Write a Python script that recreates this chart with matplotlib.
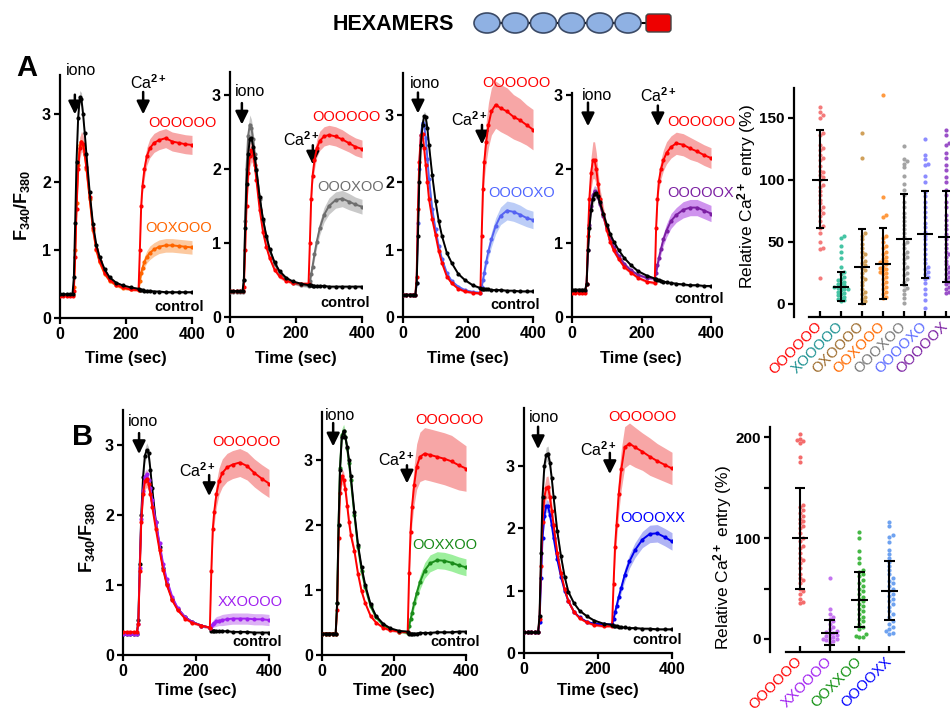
import numpy as np
import matplotlib
matplotlib.use('Agg')
import matplotlib.pyplot as plt
from matplotlib.patches import Ellipse, FancyBboxPatch

plt.rcParams['font.family'] = ['Liberation Sans', 'DejaVu Sans']
plt.rcParams['font.weight'] = 'bold'
plt.rcParams['mathtext.fontset'] = 'custom'
plt.rcParams['mathtext.rm'] = 'Liberation Sans'
plt.rcParams['mathtext.bf'] = 'Liberation Sans:bold'
plt.rcParams['mathtext.it'] = 'Liberation Sans:italic'
plt.rcParams['mathtext.default'] = 'rm'

# ---- time courses (F340/F380), common sampling times ----
t_sec = [0, 10, 20, 30, 38, 42, 46, 50, 55, 60, 65, 70, 75, 80, 90, 100, 110, 120, 135, 150, 170, 190, 215, 238,
         242, 246, 250, 256, 263, 272, 285, 300, 320, 340, 360, 380, 400]

# A1: OOXOOO
a1_ctrl = [0.35, 0.35, 0.35, 0.35, 0.36, 0.6, 1.4, 2.3, 2.95, 3.25, 3.22, 3.0, 2.72, 2.42, 1.85, 1.38, 1.08, 0.9, 0.72, 0.6, 0.52, 0.48, 0.45, 0.43,
           0.41, 0.41, 0.41, 0.40, 0.40, 0.40, 0.39, 0.39, 0.38, 0.38, 0.38, 0.38, 0.38]
a1_ctrl_sem = [0.02, 0.02, 0.02, 0.02, 0.02, 0.04, 0.08, 0.1, 0.1, 0.1, 0.1, 0.08, 0.07, 0.06, 0.05, 0.04, 0.03, 0.03, 0.02, 0.02, 0.02, 0.02, 0.02, 0.02,
               0.02, 0.02, 0.02, 0.02, 0.02, 0.02, 0.02, 0.02, 0.02, 0.02, 0.02, 0.02, 0.02]
a1_wt = [0.33, 0.33, 0.33, 0.33, 0.33, 0.4, 0.9, 1.6, 2.2, 2.5, 2.6, 2.56, 2.42, 2.22, 1.78, 1.32, 1.02, 0.84, 0.67, 0.56, 0.49, 0.45, 0.42, 0.41,
         1.0, 1.65, 1.95, 2.2, 2.38, 2.5, 2.58, 2.62, 2.65, 2.6, 2.58, 2.56, 2.55]
a1_wt_sem = [0.02, 0.02, 0.02, 0.02, 0.02, 0.03, 0.08, 0.12, 0.15, 0.15, 0.15, 0.14, 0.12, 0.1, 0.08, 0.06, 0.05, 0.04, 0.03, 0.03, 0.02, 0.02, 0.02, 0.02,
             0.06, 0.1, 0.12, 0.13, 0.13, 0.14, 0.14, 0.14, 0.14, 0.14, 0.14, 0.14, 0.14]
a1_mut = [0.34, 0.34, 0.34, 0.34, 0.34, 0.45, 1.0, 1.7, 2.25, 2.55, 2.6, 2.55, 2.4, 2.2, 1.75, 1.3, 1.0, 0.82, 0.65, 0.55, 0.48, 0.44, 0.42, 0.41,
          0.55, 0.66, 0.74, 0.83, 0.9, 0.96, 1.01, 1.05, 1.07, 1.07, 1.06, 1.05, 1.04]
a1_mut_sem = [0.02, 0.02, 0.02, 0.02, 0.02, 0.03, 0.07, 0.1, 0.12, 0.12, 0.12, 0.11, 0.1, 0.09, 0.07, 0.05, 0.04, 0.03, 0.03, 0.02, 0.02, 0.02, 0.02, 0.02,
              0.04, 0.06, 0.07, 0.08, 0.09, 0.1, 0.1, 0.1, 0.1, 0.1, 0.1, 0.1, 0.1]

# A2: OOOXOO
a2_ctrl = [0.35, 0.35, 0.35, 0.35, 0.35, 0.5, 1.2, 1.8, 2.2, 2.4, 2.42, 2.3, 2.15, 1.98, 1.62, 1.32, 1.1, 0.92, 0.74, 0.62, 0.53, 0.48, 0.45, 0.43,
           0.43, 0.43, 0.42, 0.42, 0.42, 0.42, 0.42, 0.41, 0.41, 0.41, 0.41, 0.41, 0.41]
a2_ctrl_sem = [0.02, 0.02, 0.02, 0.02, 0.02, 0.03, 0.05, 0.06, 0.06, 0.06, 0.06, 0.05, 0.05, 0.04, 0.04, 0.03, 0.03, 0.02, 0.02, 0.02, 0.02, 0.02, 0.02, 0.02,
               0.02, 0.02, 0.02, 0.02, 0.02, 0.02, 0.02, 0.02, 0.02, 0.02, 0.02, 0.02, 0.02]
a2_wt = [0.35, 0.35, 0.35, 0.35, 0.35, 0.4, 0.9, 1.5, 1.95, 2.18, 2.25, 2.2, 2.05, 1.85, 1.45, 1.15, 0.95, 0.8, 0.64, 0.55, 0.49, 0.46, 0.45, 0.45,
         1.0, 1.6, 1.9, 2.12, 2.28, 2.38, 2.44, 2.46, 2.44, 2.4, 2.35, 2.3, 2.27]
a2_wt_sem = [0.02, 0.02, 0.02, 0.02, 0.02, 0.03, 0.08, 0.12, 0.15, 0.15, 0.15, 0.14, 0.12, 0.1, 0.08, 0.06, 0.05, 0.04, 0.03, 0.03, 0.02, 0.02, 0.02, 0.02,
             0.06, 0.1, 0.11, 0.12, 0.12, 0.13, 0.13, 0.13, 0.13, 0.13, 0.12, 0.12, 0.12]
a2_mut = [0.34, 0.34, 0.34, 0.34, 0.34, 0.5, 1.3, 2.0, 2.45, 2.6, 2.55, 2.4, 2.2, 2.0, 1.6, 1.3, 1.07, 0.9, 0.72, 0.6, 0.51, 0.46, 0.43, 0.42,
          0.48, 0.58, 0.68, 0.85, 1.02, 1.2, 1.38, 1.5, 1.58, 1.6, 1.56, 1.52, 1.49]
a2_mut_sem = [0.02, 0.02, 0.02, 0.02, 0.02, 0.04, 0.08, 0.1, 0.12, 0.13, 0.12, 0.11, 0.1, 0.09, 0.07, 0.05, 0.04, 0.03, 0.03, 0.02, 0.02, 0.02, 0.02, 0.02,
              0.03, 0.05, 0.06, 0.07, 0.08, 0.09, 0.1, 0.11, 0.11, 0.11, 0.11, 0.1, 0.1]

# A3: OOOOXO
a3_ctrl = [0.33, 0.33, 0.33, 0.33, 0.33, 0.5, 1.2, 2.0, 2.55, 2.85, 2.98, 2.96, 2.8, 2.55, 2.1, 1.72, 1.42, 1.2, 0.95, 0.8, 0.64, 0.55, 0.47, 0.43,
           0.42, 0.42, 0.41, 0.41, 0.41, 0.40, 0.40, 0.40, 0.39, 0.39, 0.38, 0.38, 0.38]
a3_ctrl_sem = [0.02, 0.02, 0.02, 0.02, 0.02, 0.03, 0.05, 0.06, 0.07, 0.07, 0.07, 0.06, 0.05, 0.05, 0.04, 0.03, 0.03, 0.02, 0.02, 0.02, 0.02, 0.02, 0.02, 0.02,
               0.02, 0.02, 0.02, 0.02, 0.02, 0.02, 0.02, 0.02, 0.02, 0.02, 0.02, 0.02, 0.02]
a3_wt = [0.33, 0.33, 0.33, 0.33, 0.33, 0.6, 1.6, 2.3, 2.7, 2.72, 2.5, 2.25, 2.0, 1.75, 1.45, 1.22, 0.98, 0.8, 0.6, 0.5, 0.42, 0.38, 0.36, 0.35,
         1.2, 1.9, 2.3, 2.6, 2.85, 3.05, 3.15, 3.1, 3.05, 2.97, 2.92, 2.85, 2.78]
a3_wt_sem = [0.02, 0.02, 0.02, 0.02, 0.02, 0.04, 0.08, 0.1, 0.1, 0.1, 0.1, 0.09, 0.08, 0.07, 0.05, 0.04, 0.03, 0.03, 0.02, 0.02, 0.02, 0.02, 0.02, 0.02,
             0.1, 0.2, 0.25, 0.3, 0.33, 0.35, 0.35, 0.35, 0.35, 0.33, 0.32, 0.3, 0.3]
a3_mut = [0.33, 0.33, 0.33, 0.33, 0.33, 0.5, 1.4, 2.2, 2.7, 2.88, 2.85, 2.65, 2.35, 2.05, 1.6, 1.3, 1.05, 0.86, 0.65, 0.53, 0.45, 0.4, 0.37, 0.36,
          0.45, 0.55, 0.66, 0.82, 0.98, 1.15, 1.35, 1.5, 1.58, 1.56, 1.52, 1.47, 1.44]
a3_mut_sem = [0.02, 0.02, 0.02, 0.02, 0.02, 0.03, 0.06, 0.08, 0.08, 0.08, 0.08, 0.07, 0.06, 0.05, 0.04, 0.03, 0.03, 0.02, 0.02, 0.02, 0.02, 0.02, 0.02, 0.02,
              0.03, 0.05, 0.06, 0.08, 0.1, 0.11, 0.12, 0.13, 0.14, 0.14, 0.14, 0.13, 0.13]

# A4: OOOOOX
a4_ctrl = [0.37, 0.37, 0.37, 0.37, 0.37, 0.45, 0.9, 1.2, 1.45, 1.6, 1.67, 1.68, 1.63, 1.55, 1.4, 1.25, 1.12, 1.02, 0.9, 0.8, 0.7, 0.62, 0.56, 0.52,
           0.51, 0.5, 0.5, 0.49, 0.48, 0.47, 0.46, 0.45, 0.44, 0.43, 0.43, 0.42, 0.42]
a4_ctrl_sem = [0.02, 0.02, 0.02, 0.02, 0.02, 0.03, 0.05, 0.07, 0.08, 0.09, 0.09, 0.08, 0.07, 0.06, 0.05, 0.04, 0.03, 0.03, 0.02, 0.02, 0.02, 0.02, 0.02, 0.02,
               0.02, 0.02, 0.02, 0.02, 0.02, 0.02, 0.02, 0.02, 0.02, 0.02, 0.02, 0.02, 0.02]
a4_wt = [0.33, 0.33, 0.33, 0.33, 0.33, 0.45, 1.1, 1.6, 1.95, 2.12, 2.12, 2.0, 1.8, 1.6, 1.4, 1.18, 1.02, 0.9, 0.78, 0.68, 0.6, 0.53, 0.48, 0.46,
         1.2, 1.6, 1.84, 2.0, 2.12, 2.22, 2.3, 2.35, 2.33, 2.28, 2.24, 2.19, 2.15]
a4_wt_sem = [0.02, 0.02, 0.02, 0.02, 0.02, 0.05, 0.12, 0.18, 0.22, 0.25, 0.25, 0.22, 0.18, 0.15, 0.1, 0.07, 0.05, 0.04, 0.03, 0.03, 0.02, 0.02, 0.02, 0.02,
             0.08, 0.1, 0.12, 0.13, 0.14, 0.15, 0.15, 0.15, 0.15, 0.15, 0.14, 0.14, 0.14]
a4_mut = [0.35, 0.35, 0.35, 0.35, 0.35, 0.45, 0.9, 1.25, 1.5, 1.65, 1.7, 1.68, 1.62, 1.53, 1.36, 1.2, 1.06, 0.95, 0.82, 0.72, 0.63, 0.57, 0.53, 0.52,
          0.6, 0.7, 0.8, 0.92, 1.05, 1.17, 1.3, 1.38, 1.45, 1.48, 1.48, 1.44, 1.4]
a4_mut_sem = [0.02, 0.02, 0.02, 0.02, 0.02, 0.03, 0.05, 0.06, 0.07, 0.08, 0.08, 0.07, 0.06, 0.05, 0.04, 0.03, 0.03, 0.02, 0.02, 0.02, 0.02, 0.02, 0.02, 0.02,
              0.04, 0.05, 0.06, 0.07, 0.08, 0.09, 0.1, 0.1, 0.11, 0.11, 0.11, 0.11, 0.11]

# B1: XXOOOO
b1_ctrl = [0.3, 0.3, 0.3, 0.3, 0.3, 0.5, 1.3, 2.0, 2.55, 2.85, 2.93, 2.88, 2.65, 2.38, 1.9, 1.55, 1.25, 1.02, 0.8, 0.66, 0.54, 0.47, 0.42, 0.39,
           0.35, 0.35, 0.35, 0.34, 0.34, 0.34, 0.34, 0.33, 0.33, 0.33, 0.32, 0.32, 0.32]
b1_ctrl_sem = [0.02, 0.02, 0.02, 0.02, 0.02, 0.03, 0.06, 0.08, 0.1, 0.1, 0.1, 0.09, 0.08, 0.06, 0.05, 0.04, 0.03, 0.03, 0.02, 0.02, 0.02, 0.02, 0.02, 0.02,
               0.02, 0.02, 0.02, 0.02, 0.02, 0.02, 0.02, 0.02, 0.02, 0.02, 0.02, 0.02, 0.02]
b1_wt = [0.33, 0.33, 0.33, 0.33, 0.33, 0.45, 1.2, 1.9, 2.3, 2.48, 2.52, 2.45, 2.3, 2.12, 1.8, 1.5, 1.22, 1.0, 0.78, 0.64, 0.52, 0.46, 0.42, 0.39,
         1.2, 1.8, 2.05, 2.3, 2.48, 2.6, 2.68, 2.72, 2.75, 2.7, 2.6, 2.52, 2.45]
b1_wt_sem = [0.02, 0.02, 0.02, 0.02, 0.02, 0.04, 0.08, 0.1, 0.12, 0.12, 0.12, 0.11, 0.1, 0.08, 0.06, 0.05, 0.04, 0.03, 0.03, 0.02, 0.02, 0.02, 0.02, 0.02,
             0.1, 0.15, 0.17, 0.18, 0.19, 0.2, 0.2, 0.2, 0.2, 0.2, 0.2, 0.2, 0.2]
b1_mut = [0.3, 0.3, 0.3, 0.3, 0.3, 0.45, 1.25, 1.95, 2.35, 2.55, 2.58, 2.5, 2.38, 2.22, 1.9, 1.6, 1.3, 1.08, 0.83, 0.67, 0.54, 0.47, 0.42, 0.39,
          0.42, 0.44, 0.46, 0.48, 0.49, 0.5, 0.51, 0.52, 0.52, 0.52, 0.51, 0.51, 0.5]
b1_mut_sem = [0.02, 0.02, 0.02, 0.02, 0.02, 0.03, 0.06, 0.08, 0.08, 0.08, 0.08, 0.07, 0.06, 0.05, 0.04, 0.03, 0.03, 0.02, 0.02, 0.02, 0.02, 0.02, 0.02, 0.02,
              0.04, 0.05, 0.06, 0.07, 0.07, 0.08, 0.08, 0.08, 0.08, 0.08, 0.08, 0.08, 0.08]

# B2: OOXXOO
b2_ctrl = [0.33, 0.33, 0.33, 0.33, 0.33, 0.8, 2.0, 2.85, 3.35, 3.44, 3.35, 3.2, 3.0, 2.75, 2.2, 1.7, 1.35, 1.08, 0.78, 0.6, 0.48, 0.41, 0.37, 0.36,
           0.33, 0.33, 0.33, 0.33, 0.33, 0.34, 0.34, 0.34, 0.35, 0.35, 0.35, 0.36, 0.36]
b2_ctrl_sem = [0.02, 0.02, 0.02, 0.02, 0.02, 0.04, 0.06, 0.08, 0.08, 0.08, 0.08, 0.07, 0.06, 0.05, 0.04, 0.03, 0.03, 0.02, 0.02, 0.02, 0.02, 0.02, 0.02, 0.02,
               0.02, 0.02, 0.02, 0.02, 0.02, 0.02, 0.02, 0.02, 0.02, 0.02, 0.02, 0.02, 0.02]
b2_wt = [0.33, 0.33, 0.33, 0.33, 0.33, 0.7, 1.8, 2.5, 2.75, 2.7, 2.55, 2.3, 2.05, 1.85, 1.6, 1.25, 0.98, 0.8, 0.6, 0.5, 0.42, 0.38, 0.36, 0.35,
         1.26, 1.9, 2.28, 2.62, 2.9, 3.05, 3.1, 3.08, 3.05, 3.02, 2.98, 2.92, 2.87]
b2_wt_sem = [0.02, 0.02, 0.02, 0.02, 0.02, 0.04, 0.08, 0.1, 0.12, 0.12, 0.12, 0.11, 0.1, 0.08, 0.06, 0.05, 0.04, 0.03, 0.03, 0.02, 0.02, 0.02, 0.02, 0.02,
             0.12, 0.2, 0.25, 0.3, 0.35, 0.38, 0.4, 0.4, 0.4, 0.4, 0.4, 0.38, 0.35]
b2_mut = [0.33, 0.33, 0.33, 0.33, 0.33, 0.8, 2.0, 2.88, 3.38, 3.45, 3.35, 3.18, 2.95, 2.7, 2.15, 1.66, 1.3, 1.04, 0.75, 0.58, 0.46, 0.4, 0.36, 0.34,
          0.45, 0.55, 0.65, 0.8, 0.95, 1.12, 1.3, 1.41, 1.46, 1.45, 1.42, 1.38, 1.35]
b2_mut_sem = [0.02, 0.02, 0.02, 0.02, 0.02, 0.04, 0.07, 0.1, 0.1, 0.1, 0.1, 0.09, 0.08, 0.06, 0.05, 0.04, 0.03, 0.03, 0.02, 0.02, 0.02, 0.02, 0.02, 0.02,
              0.03, 0.05, 0.07, 0.08, 0.1, 0.11, 0.12, 0.13, 0.13, 0.13, 0.13, 0.13, 0.13]

# B3: OOOOXX
b3_ctrl = [0.33, 0.33, 0.33, 0.33, 0.33, 0.6, 1.6, 2.5, 3.0, 3.18, 3.2, 3.05, 2.8, 2.5, 1.95, 1.55, 1.22, 0.98, 0.8, 0.68, 0.59, 0.52, 0.47, 0.45,
           0.44, 0.43, 0.43, 0.42, 0.41, 0.41, 0.4, 0.4, 0.39, 0.39, 0.38, 0.38, 0.38]
b3_ctrl_sem = [0.02, 0.02, 0.02, 0.02, 0.02, 0.04, 0.08, 0.1, 0.12, 0.12, 0.12, 0.1, 0.08, 0.07, 0.05, 0.04, 0.03, 0.03, 0.02, 0.02, 0.02, 0.02, 0.02, 0.02,
               0.02, 0.02, 0.02, 0.02, 0.02, 0.02, 0.02, 0.02, 0.02, 0.02, 0.02, 0.02, 0.02]
b3_wt = [0.33, 0.33, 0.33, 0.33, 0.33, 0.55, 1.4, 2.1, 2.5, 2.65, 2.66, 2.5, 2.28, 2.05, 1.6, 1.28, 1.02, 0.83, 0.66, 0.56, 0.49, 0.45, 0.43, 0.43,
         1.1, 1.7, 2.05, 2.55, 2.95, 3.3, 3.36, 3.3, 3.23, 3.15, 3.08, 3.02, 2.96]
b3_wt_sem = [0.02, 0.02, 0.02, 0.02, 0.02, 0.05, 0.1, 0.15, 0.18, 0.18, 0.18, 0.16, 0.13, 0.1, 0.07, 0.05, 0.04, 0.03, 0.03, 0.02, 0.02, 0.02, 0.02, 0.02,
             0.1, 0.2, 0.25, 0.3, 0.32, 0.33, 0.33, 0.32, 0.3, 0.3, 0.28, 0.27, 0.26]
b3_mut = [0.33, 0.33, 0.33, 0.33, 0.33, 0.5, 1.2, 1.85, 2.2, 2.36, 2.35, 2.22, 2.05, 1.85, 1.5, 1.22, 1.0, 0.83, 0.66, 0.57, 0.5, 0.47, 0.46, 0.46,
          0.55, 0.65, 0.75, 0.9, 1.05, 1.25, 1.47, 1.65, 1.82, 1.91, 1.92, 1.86, 1.79]
b3_mut_sem = [0.02, 0.02, 0.02, 0.02, 0.02, 0.04, 0.07, 0.09, 0.1, 0.1, 0.1, 0.09, 0.08, 0.06, 0.05, 0.04, 0.03, 0.03, 0.02, 0.02, 0.02, 0.02, 0.02, 0.02,
              0.04, 0.05, 0.06, 0.07, 0.08, 0.1, 0.11, 0.12, 0.13, 0.14, 0.14, 0.14, 0.14]

# ---- relative Ca2+ entry (%) per cell ----
names_a = ['OOOOOO', 'XOOOOO', 'OXOOOO', 'OOXOOO', 'OOOXOO', 'OOOOXO', 'OOOOOX']
sa_wt = [159, 155, 152, 150, 138, 136, 128, 126, 124, 120, 118, 116, 111, 107, 106, 104, 102, 100, 96, 94, 91, 88,
         84, 81, 78, 76, 73, 71, 67, 63, 61, 57, 50, 45, 44, 21]
sa_xooooo = [55, 53, 47, 42, 37, 30, 26, 24, 22, 20, 19, 18, 17, 16, 15, 14, 14, 13, 12, 12, 11, 10, 9, 8, 7, 6, 5, 4, 3, 2]
sa_oxoooo = [138, 118, 57, 55, 52, 48, 45, 42, 40, 38, 35, 33, 31, 29, 27, 25, 22, 20, 18, 15, 12, 10, 8, 6, 4, 2, 1]
sa_ooxooo = [168, 86, 72, 70, 55, 53, 50, 47, 45, 42, 40, 38, 36, 35, 34, 33, 32, 30, 29, 28, 27, 26, 25, 24, 22, 20,
             18, 16, 14, 12, 10, 8, 6, 5]
sa_oooxoo = [127, 117, 115, 113, 110, 103, 97, 92, 88, 82, 78, 73, 70, 67, 64, 60, 57, 54, 50, 48, 45, 42, 40, 38, 36,
             33, 30, 28, 25, 23, 20, 18, 15, 13, 11, 8, 5, 1]
sa_ooooxo = [133, 120, 117, 113, 112, 103, 98, 90, 87, 82, 78, 74, 70, 65, 62, 58, 55, 52, 48, 44, 40, 36, 33, 30, 28,
             26, 24, 22, 20, 17, 12, 8, 3, -3]
sa_ooooox = [140, 136, 130, 128, 122, 118, 112, 108, 102, 98, 92, 88, 82, 78, 72, 68, 64, 60, 56, 52, 48, 45, 42, 40,
             38, 35, 32, 30, 28, 26, 24, 22, 20, 18, 16, 14, 12, 10, 9]
sa_mean = [100, 14, 30, 32, 52, 56, 54]
sa_lo = [61, 2, 0, 4, 15, 21, 18]
sa_hi = [140, 26, 60, 61, 89, 91, 91]

names_b = ['OOOOOO', 'XXOOOO', 'OOXXOO', 'OOOOXX']
sb_wt = [203, 198, 197, 196, 194, 180, 175, 133, 131, 128, 125, 122, 119, 117, 115, 112, 110, 105, 100, 97, 92, 90,
         85, 80, 78, 75, 70, 64, 60, 58, 55, 50, 48, 45, 40, 37, 36]
sb_xxoooo = [60, 30, 25, 22, 20, 18, 15, 12, 10, 8, 7, 6, 5, 4, 3, 2, 1, 0, 0, -1, -2, -3]
sb_ooxxoo = [106, 100, 87, 80, 75, 68, 66, 64, 62, 58, 55, 52, 50, 48, 45, 42, 40, 38, 35, 33, 30, 28, 25, 22, 20,
             18, 15, 12, 10, 5, 3, 2, 2]
sb_ooooxx = [116, 112, 103, 101, 96, 88, 84, 80, 76, 72, 68, 64, 60, 57, 55, 52, 50, 48, 45, 43, 40, 38, 35, 32, 28,
             25, 22, 18, 15, 12, 10, 8, 6, 5]
sb_mean = [100, 6, 39, 48]
sb_lo = [50, -6, 12, 19]
sb_hi = [150, 19, 66, 77]

RED, RED_BAND = '#ff0000', '#f7a6a6'
BLACK, GRAY_BAND = '#000000', '#c4c4c4'

W, H = 950, 711
fig = plt.figure(figsize=(9.5, 7.11), dpi=100)


def fig_box(l, t, r, b):
    return [l / W, 1 - b / H, (r - l) / W, (b - t) / H]


def style(ax, labelsize=11.5):
    ax.spines['top'].set_visible(False)
    ax.spines['right'].set_visible(False)
    for s in ('left', 'bottom'):
        ax.spines[s].set_linewidth(1.6)
    ax.tick_params(direction='out', length=4.5, width=1.6, labelsize=labelsize, pad=2)
    ax.patch.set_alpha(0)


def time_panel(box, ytop, traces, iono, ca, labels):
    ax = fig.add_axes(fig_box(*box))
    style(ax)
    ax.set_xlim(0, 400)
    ax.set_ylim(0, ytop)
    ax.set_xticks([0, 200, 400])
    ax.set_yticks([0, 1, 2, 3])
    for k, (y, e, lc, bc) in enumerate(traces):
        y, e = np.asarray(y), np.asarray(e)
        ax.fill_between(t_sec, y - e, y + e, color=bc, lw=0, zorder=1 + 0.1 * k)
    for k, (y, e, lc, bc) in enumerate(traces):
        ax.plot(t_sec, y, color=lc, lw=1.4, marker='o', ms=3, mew=0, zorder=3 + k)
    # stimulus arrows
    for txt, (tx, ty), (ax_x, y0, y1) in (('iono', iono[0], iono[1]), ('Ca$^{2+}$', ca[0], ca[1])):
        ax.text(tx, ty, txt, ha='center', va='center', fontsize=11.5, fontweight='normal', clip_on=False)
        ax.annotate('', xy=(ax_x, y1), xytext=(ax_x, y0), annotation_clip=False,
                    arrowprops=dict(arrowstyle='-|>,head_width=0.32,head_length=0.65', lw=1.8,
                                    color='k', shrinkA=0, shrinkB=0, mutation_scale=12))
    for txt, color, (lx, ly), weight in labels:
        ax.text(lx, ly, txt, color=color, ha='left', va='center', fontsize=10.5,
                fontweight=weight, clip_on=False, zorder=10)
    return ax


def swarm_x(ax, xc, vals, dpx):
    to_px = ax.transData.transform
    unit_px = to_px((xc + 1, 0))[0] - to_px((xc, 0))[0]
    xs = np.zeros(len(vals))
    placed = []
    for i in np.argsort(vals):
        ypx = to_px((xc, vals[i]))[1]
        k = 0
        while True:
            off = ((k + 1) // 2) * dpx * (1 if k % 2 == 1 else -1)
            if all((px - off) ** 2 + (py - ypx) ** 2 >= dpx ** 2 for px, py in placed):
                break
            k += 1
        placed.append((off, ypx))
        xs[i] = xc + off / unit_px
    return xs


def scatter_panel(box, ylim, xlim, xbounds, groups, pt_colors, lab_colors, names, means, los, his,
                  yticks, minor, mean_w, cap_w):
    ax = fig.add_axes(fig_box(*box))
    style(ax, labelsize=11)
    ax.set_ylim(*ylim)
    ax.set_xlim(*xlim)
    ax.spines['bottom'].set_bounds(*xbounds)
    ax.set_yticks(yticks)
    if minor:
        ax.set_yticks(minor, minor=True)
        ax.tick_params(which='minor', direction='out', length=4.5, width=1.6)
    ax.set_xticks(range(len(names)))
    ax.set_xticklabels(names, rotation=45, ha='right', va='center', rotation_mode='anchor',
                       fontsize=10.5, fontweight='normal')
    ax.tick_params(axis='x', direction='in', length=4, pad=5)
    for lab, c in zip(ax.get_xticklabels(), lab_colors):
        lab.set_color(c)
    for i, vals in enumerate(groups):
        xs = swarm_x(ax, i, vals, 3.4)
        ax.scatter(xs, vals, s=9, color=pt_colors[i], lw=0, zorder=2)
        ax.hlines(means[i], i - mean_w, i + mean_w, color='k', lw=1.5, zorder=4)
        ax.vlines(i, los[i], his[i], color='k', lw=1.5, zorder=4)
        ax.hlines([los[i], his[i]], i - cap_w, i + cap_w, color='k', lw=1.5, zorder=4)
    return ax


# ---- header graphic ----
hdr = fig.add_axes([0, 0, 1, 1], zorder=-1)
hdr.set_xlim(0, W)
hdr.set_ylim(H, 0)
hdr.axis('off')
hdr.text(393, 24, 'HEXAMERS', ha='center', va='center', fontsize=15.5, fontweight='bold')
hdr.plot([487, 660], [23, 23], color='k', lw=1.5, zorder=1)
for i in range(6):
    hdr.add_patch(Ellipse((487 + 28.2 * i, 23), 26, 20, fc='#8fb1e3', ec='#3b4a66', lw=1.2, zorder=2))
hdr.add_patch(FancyBboxPatch((646, 14), 25, 18, boxstyle='round,pad=0,rounding_size=3',
                             fc='#ee0000', ec='#444444', lw=1.0, zorder=2))
fig.text(27 / W, 1 - 68 / H, 'A', fontsize=21, fontweight='bold', ha='center', va='center')
fig.text(83 / W, 1 - 437 / H, 'B', fontsize=21, fontweight='bold', ha='center', va='center')

# ---- row A ----
time_panel((60, 75, 192, 318), 3.58,
           [(a1_mut, a1_mut_sem, '#ff6600', '#fcc9a0'), (a1_wt, a1_wt_sem, RED, RED_BAND),
            (a1_ctrl, a1_ctrl_sem, BLACK, GRAY_BAND)],
           ((64, 3.64), (45, 3.29, 3.0)), ((267, 3.47), (252, 3.33, 3.0)),
           [('OOOOOO', RED, (267, 2.88), 'normal'), ('OOXOOO', '#ff6600', (258, 1.33), 'normal'),
            ('control', 'k', (285, 0.16), 'bold')])
time_panel((230, 72, 362, 317), 3.31,
           [(a2_mut, a2_mut_sem, '#6e6e6e', '#c9c9c9'), (a2_wt, a2_wt_sem, RED, RED_BAND),
            (a2_ctrl, a2_ctrl_sem, BLACK, GRAY_BAND)],
           ((61, 3.04), (36, 2.89, 2.6)), ((218, 2.4), (251, 2.32, 2.06)),
           [('OOOOOO', RED, (248, 2.7), 'normal'), ('OOOXOO', '#6e6e6e', (263, 1.76), 'normal'),
            ('control', 'k', (273, 0.19), 'bold')])
time_panel((403, 73, 533, 317), 3.62,
           [(a3_mut, a3_mut_sem, '#5563f2', '#bccdf7'), (a3_wt, a3_wt_sem, RED, RED_BAND),
            (a3_ctrl, a3_ctrl_sem, BLACK, GRAY_BAND)],
           ((68, 3.47), (46, 3.33, 3.02)), ((206, 2.93), (243, 2.85, 2.56)),
           [('OOOOOO', RED, (243, 3.47), 'normal'), ('OOOOXO', '#4f66ff', (262, 1.84), 'normal'),
            ('control', 'k', (268, 0.18), 'bold')])
time_panel((572, 93, 711, 317), 3.03,
           [(a4_mut, a4_mut_sem, '#7b1fa2', '#cf94ee'), (a4_wt, a4_wt_sem, RED, RED_BAND),
            (a4_ctrl, a4_ctrl_sem, BLACK, GRAY_BAND)],
           ((72, 3.0), (46, 2.9, 2.58)), ((248, 3.0), (247, 2.86, 2.58)),
           [('OOOOOO', RED, (273, 2.64), 'normal'), ('OOOOOX', '#7b1fa2', (273, 1.68), 'normal'),
            ('control', 'k', (296, 0.25), 'bold')])

# ---- row B ----
time_panel((123, 410, 269, 655), 3.5,
           [(b1_ctrl, b1_ctrl_sem, BLACK, GRAY_BAND), (b1_mut, b1_mut_sem, '#a020f0', '#dcb0f5'),
            (b1_wt, b1_wt_sem, RED, RED_BAND)],
           ((55, 3.33), (44, 3.17, 2.87)), ((203, 2.64), (236, 2.57, 2.27)),
           [('OOOOOO', RED, (244, 3.04), 'normal'), ('XXOOOO', '#a020f0', (260, 0.76), 'normal'),
            ('control', 'k', (301, 0.19), 'bold')])
time_panel((322, 412, 466, 655), 3.74,
           [(b2_mut, b2_mut_sem, '#1a8c1a', '#9def9d'), (b2_wt, b2_wt_sem, RED, RED_BAND),
            (b2_ctrl, b2_ctrl_sem, BLACK, GRAY_BAND)],
           ((50, 3.69), (31, 3.57, 3.21)), ((208, 3.0), (236, 2.92, 2.64)),
           [('OOOOOO', RED, (258, 3.62), 'normal'), ('OOXXOO', '#178a17', (250, 1.69), 'normal'),
            ('control', 'k', (300, 0.2), 'bold')])
time_panel((524, 408, 672, 653), 3.93,
           [(b3_mut, b3_mut_sem, '#0000ee', '#b0b4f5'), (b3_wt, b3_wt_sem, RED, RED_BAND),
            (b3_ctrl, b3_ctrl_sem, BLACK, GRAY_BAND)],
           ((54, 3.77), (38, 3.63, 3.27)), ((200, 3.26), (232, 3.21, 2.87)),
           [('OOOOOO', RED, (227, 3.79), 'normal'), ('OOOOXX', '#0000ff', (259, 2.17), 'normal'),
            ('control', 'k', (292, 0.21), 'bold')])

for cx, cy in ((126, 358), (296, 358), (468, 358), (641, 358), (196, 690), (394, 690), (598, 690)):
    fig.text(cx / W, 1 - cy / H, 'Time (sec)', ha='center', va='center', fontsize=12, fontweight='bold')
for cx, cy in ((22, 205), (87, 537)):
    fig.text(cx / W, 1 - cy / H, r'$\mathbf{F_{340}/F_{380}}$', ha='center', va='center', fontsize=13, rotation=90)

# ---- scatter panels ----
scatter_panel((794, 88, 960, 317), (-10.5, 174), (-1.24, 6.67), (-0.52, 7),
              [sa_wt, sa_xooooo, sa_oxoooo, sa_ooxooo, sa_oooxoo, sa_ooooxo, sa_ooooox],
              ['#f47b7b', '#45c4a4', '#d0a05a', '#ff9a40', '#a3a3a3', '#8c8cff', '#9a50c8'],
              ['#ff0000', '#1a9090', '#9c6a2a', '#ff6a00', '#777777', '#5a6aff', '#7a1fa2'],
              names_a, sa_mean, sa_lo, sa_hi, [0, 50, 100, 150], None, 0.36, 0.17)
scatter_panel((770, 427, 910, 652), (-12.9, 210), (-1.01, 3.7), (-0.47, 3.5),
              [sb_wt, sb_xxoooo, sb_ooxxoo, sb_ooooxx],
              ['#f46c6c', '#c474f0', '#45b845', '#6ea2f0'],
              ['#ff0000', '#a020f0', '#109010', '#0000ff'],
              names_b, sb_mean, sb_lo, sb_hi, [0, 100, 200], [50, 150], 0.28, 0.18)
fig.text(747 / W, 1 - 197 / H, 'Relative Ca$^{2+}$ entry (%)', ha='center', va='center',
         fontsize=12.5, fontweight='normal', rotation=90)
fig.text(723 / W, 1 - 558 / H, 'Relative Ca$^{2+}$ entry (%)', ha='center', va='center',
         fontsize=12.5, fontweight='normal', rotation=90)

fig.savefig('out.png', dpi=100)
